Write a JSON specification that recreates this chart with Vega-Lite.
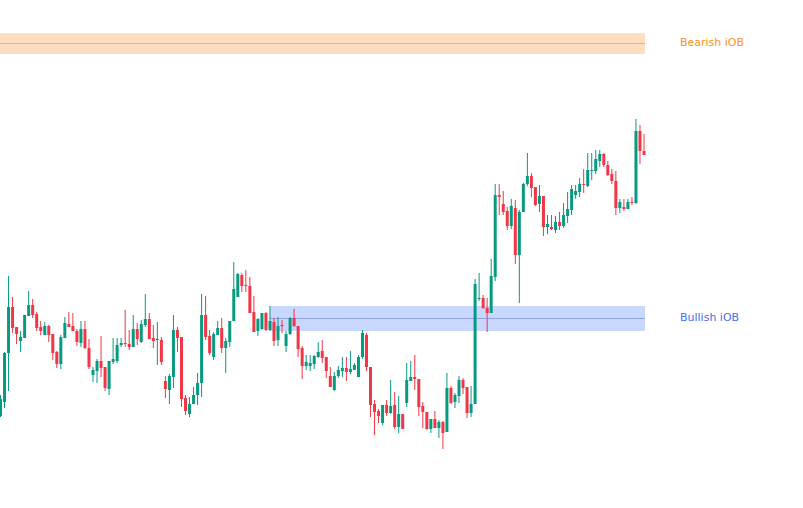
{
  "$schema": "https://vega.github.io/schema/vega-lite/v6.json",
  "width": 803,
  "height": 508,
  "autosize": {"type": "none"},
  "padding": 0,
  "background": "white",
  "config": {"view": {"stroke": null}},
  "datasets": {
    "candles": [
      {"i":0,"o":92,"h":113,"l":91,"c":109},
      {"i":1,"o":106,"h":156,"l":100,"c":155},
      {"i":2,"o":155,"h":232,"l":117,"c":201},
      {"i":3,"o":201,"h":211,"l":175,"c":180},
      {"i":4,"o":181,"h":181,"l":164,"c":174},
      {"i":5,"o":167,"h":177,"l":156,"c":171},
      {"i":6,"o":170,"h":193,"l":170,"c":193},
      {"i":7,"o":192,"h":217,"l":192,"c":203},
      {"i":8,"o":203,"h":209,"l":190,"c":193},
      {"i":9,"o":194,"h":196,"l":177,"c":180},
      {"i":10,"o":181,"h":187,"l":173,"c":177},
      {"i":11,"o":173,"h":186,"l":173,"c":182},
      {"i":12,"o":182,"h":183,"l":166,"c":173},
      {"i":13,"o":174,"h":174,"l":148,"c":155},
      {"i":14,"o":156,"h":157,"l":140,"c":144},
      {"i":15,"o":144,"h":173,"l":139,"c":171},
      {"i":16,"o":170,"h":191,"l":170,"c":185},
      {"i":17,"o":184,"h":196,"l":181,"c":181},
      {"i":18,"o":182,"h":195,"l":177,"c":177},
      {"i":19,"o":177,"h":179,"l":162,"c":166},
      {"i":20,"o":165,"h":187,"l":161,"c":179},
      {"i":21,"o":179,"h":187,"l":159,"c":160},
      {"i":22,"o":160,"h":169,"l":139,"c":141},
      {"i":23,"o":133,"h":141,"l":126,"c":138},
      {"i":24,"o":137,"h":149,"l":125,"c":147},
      {"i":25,"o":147,"h":172,"l":131,"c":140},
      {"i":26,"o":141,"h":141,"l":117,"c":120},
      {"i":27,"o":119,"h":147,"l":113,"c":147},
      {"i":28,"o":146,"h":170,"l":144,"c":149},
      {"i":29,"o":147,"h":170,"l":145,"c":163},
      {"i":30,"o":163,"h":170,"l":161,"c":165},
      {"i":31,"o":165,"h":198,"l":161,"c":164},
      {"i":32,"o":164,"h":178,"l":158,"c":161},
      {"i":33,"o":161,"h":193,"l":161,"c":179},
      {"i":34,"o":179,"h":185,"l":163,"c":169},
      {"i":35,"o":166,"h":188,"l":165,"c":184},
      {"i":36,"o":183,"h":214,"l":181,"c":189},
      {"i":37,"o":189,"h":195,"l":169,"c":169},
      {"i":38,"o":170,"h":183,"l":160,"c":167},
      {"i":39,"o":168,"h":186,"l":143,"c":169},
      {"i":40,"o":168,"h":171,"l":143,"c":146},
      {"i":41,"o":127,"h":132,"l":110,"c":119},
      {"i":42,"o":118,"h":134,"l":104,"c":132},
      {"i":43,"o":131,"h":193,"l":120,"c":178},
      {"i":44,"o":178,"h":181,"l":156,"c":170},
      {"i":45,"o":171,"h":171,"l":101,"c":109},
      {"i":46,"o":110,"h":113,"l":93,"c":97},
      {"i":47,"o":94,"h":111,"l":91,"c":104},
      {"i":48,"o":104,"h":121,"l":104,"c":113},
      {"i":49,"o":113,"h":135,"l":103,"c":125},
      {"i":50,"o":125,"h":214,"l":111,"c":193},
      {"i":51,"o":193,"h":212,"l":168,"c":171},
      {"i":52,"o":172,"h":178,"l":153,"c":155},
      {"i":53,"o":151,"h":176,"l":148,"c":174},
      {"i":54,"o":173,"h":187,"l":173,"c":180},
      {"i":55,"o":180,"h":190,"l":155,"c":160},
      {"i":56,"o":160,"h":170,"l":135,"c":167},
      {"i":57,"o":166,"h":187,"l":161,"c":187},
      {"i":58,"o":187,"h":246,"l":187,"c":219},
      {"i":59,"o":211,"h":235,"l":211,"c":234},
      {"i":60,"o":233,"h":235,"l":216,"c":222},
      {"i":61,"o":223,"h":238,"l":216,"c":222},
      {"i":62,"o":222,"h":231,"l":195,"c":195},
      {"i":63,"o":196,"h":212,"l":176,"c":176},
      {"i":64,"o":177,"h":190,"l":172,"c":189},
      {"i":65,"o":179,"h":195,"l":178,"c":195},
      {"i":66,"o":195,"h":196,"l":177,"c":178},
      {"i":67,"o":178,"h":202,"l":177,"c":187},
      {"i":68,"o":186,"h":190,"l":162,"c":167},
      {"i":69,"o":168,"h":191,"l":162,"c":182},
      {"i":70,"o":183,"h":188,"l":175,"c":182},
      {"i":71,"o":162,"h":177,"l":156,"c":174},
      {"i":72,"o":174,"h":191,"l":173,"c":190},
      {"i":73,"o":190,"h":199,"l":181,"c":182},
      {"i":74,"o":182,"h":182,"l":151,"c":159},
      {"i":75,"o":160,"h":162,"l":129,"c":142},
      {"i":76,"o":142,"h":153,"l":138,"c":146},
      {"i":77,"o":142,"h":153,"l":137,"c":145},
      {"i":78,"o":144,"h":153,"l":139,"c":152},
      {"i":79,"o":151,"h":166,"l":150,"c":156},
      {"i":80,"o":157,"h":168,"l":145,"c":150},
      {"i":81,"o":151,"h":151,"l":130,"c":137},
      {"i":82,"o":132,"h":141,"l":121,"c":121},
      {"i":83,"o":118,"h":136,"l":117,"c":132},
      {"i":84,"o":132,"h":142,"l":130,"c":138},
      {"i":85,"o":137,"h":151,"l":131,"c":140},
      {"i":86,"o":140,"h":151,"l":127,"c":136},
      {"i":87,"o":136,"h":157,"l":134,"c":139},
      {"i":88,"o":138,"h":145,"l":138,"c":143},
      {"i":89,"o":131,"h":153,"l":131,"c":151},
      {"i":90,"o":151,"h":178,"l":149,"c":175},
      {"i":91,"o":173,"h":175,"l":137,"c":141},
      {"i":92,"o":141,"h":141,"l":91,"c":103},
      {"i":93,"o":104,"h":108,"l":73,"c":96},
      {"i":94,"o":97,"h":99,"l":85,"c":92},
      {"i":95,"o":85,"h":103,"l":83,"c":103},
      {"i":96,"o":103,"h":108,"l":92,"c":95},
      {"i":97,"o":95,"h":128,"l":94,"c":102},
      {"i":98,"o":103,"h":116,"l":79,"c":81},
      {"i":99,"o":81,"h":112,"l":75,"c":94},
      {"i":100,"o":94,"h":94,"l":79,"c":79},
      {"i":101,"o":105,"h":145,"l":101,"c":128},
      {"i":102,"o":127,"h":147,"l":127,"c":131},
      {"i":103,"o":131,"h":153,"l":118,"c":129},
      {"i":104,"o":129,"h":129,"l":92,"c":101},
      {"i":105,"o":102,"h":106,"l":80,"c":96},
      {"i":106,"o":96,"h":96,"l":78,"c":79},
      {"i":107,"o":79,"h":89,"l":75,"c":89},
      {"i":108,"o":89,"h":97,"l":80,"c":80},
      {"i":109,"o":80,"h":88,"l":70,"c":86},
      {"i":110,"o":86,"h":87,"l":59,"c":75},
      {"i":111,"o":76,"h":135,"l":76,"c":120},
      {"i":112,"o":120,"h":122,"l":104,"c":105},
      {"i":113,"o":106,"h":115,"l":100,"c":113},
      {"i":114,"o":112,"h":132,"l":105,"c":128},
      {"i":115,"o":128,"h":130,"l":114,"c":120},
      {"i":116,"o":121,"h":121,"l":90,"c":95},
      {"i":117,"o":95,"h":122,"l":91,"c":104},
      {"i":118,"o":104,"h":229,"l":104,"c":224},
      {"i":119,"o":209,"h":235,"l":207,"c":210},
      {"i":120,"o":210,"h":213,"l":199,"c":200},
      {"i":121,"o":200,"h":210,"l":176,"c":195},
      {"i":122,"o":195,"h":249,"l":195,"c":232},
      {"i":123,"o":231,"h":324,"l":227,"c":313},
      {"i":124,"o":313,"h":324,"l":293,"c":311},
      {"i":125,"o":304,"h":317,"l":293,"c":296},
      {"i":126,"o":297,"h":301,"l":278,"c":282},
      {"i":127,"o":282,"h":309,"l":279,"c":302},
      {"i":128,"o":300,"h":308,"l":244,"c":253},
      {"i":129,"o":253,"h":298,"l":205,"c":296},
      {"i":130,"o":296,"h":325,"l":296,"c":324},
      {"i":131,"o":324,"h":355,"l":322,"c":332},
      {"i":132,"o":332,"h":335,"l":311,"c":320},
      {"i":133,"o":321,"h":321,"l":302,"c":303},
      {"i":134,"o":304,"h":323,"l":296,"c":312},
      {"i":135,"o":312,"h":312,"l":272,"c":281},
      {"i":136,"o":281,"h":293,"l":274,"c":284},
      {"i":137,"o":281,"h":293,"l":278,"c":279},
      {"i":138,"o":278,"h":292,"l":275,"c":286},
      {"i":139,"o":286,"h":296,"l":278,"c":282},
      {"i":140,"o":282,"h":305,"l":280,"c":293},
      {"i":141,"o":292,"h":316,"l":285,"c":299},
      {"i":142,"o":298,"h":323,"l":293,"c":319},
      {"i":143,"o":313,"h":323,"l":309,"c":317},
      {"i":144,"o":316,"h":330,"l":311,"c":324},
      {"i":145,"o":324,"h":339,"l":315,"c":323},
      {"i":146,"o":322,"h":355,"l":321,"c":338},
      {"i":147,"o":337,"h":355,"l":328,"c":338},
      {"i":148,"o":337,"h":358,"l":334,"c":349},
      {"i":149,"o":347,"h":358,"l":341,"c":354},
      {"i":150,"o":354,"h":355,"l":341,"c":343},
      {"i":151,"o":343,"h":347,"l":332,"c":333},
      {"i":152,"o":334,"h":339,"l":324,"c":327},
      {"i":153,"o":327,"h":337,"l":293,"c":300},
      {"i":154,"o":300,"h":309,"l":295,"c":306},
      {"i":155,"o":301,"h":309,"l":297,"c":299},
      {"i":156,"o":299,"h":309,"l":299,"c":306},
      {"i":157,"o":306,"h":311,"l":303,"c":305},
      {"i":158,"o":305,"h":389,"l":304,"c":377},
      {"i":159,"o":377,"h":383,"l":344,"c":357},
      {"i":160,"o":357,"h":374,"l":353,"c":353}
    ],
    "zones": [
      {"label":"Bearish iOB","start":-0.124,"end":160.24,"top":475,"bottom":454,"mid":464.5},
      {"label":"Bullish iOB","start":67,"end":160.24,"top":202,"bottom":177,"mid":189.5}
    ]
  },
  "layer": [
    {
      "data": {"name": "zones"},
      "mark": {"type": "rect"},
      "encoding": {
        "x": {"field": "start", "type": "quantitative", "scale": {"domain": [-0.124, 199.53], "nice": false, "zero": false, "padding": 0}, "axis": null},
        "x2": {"field": "end"},
        "y": {"field": "bottom", "type": "quantitative", "scale": {"domain": [0, 508], "nice": false, "zero": false, "padding": 0}, "axis": null},
        "y2": {"field": "top"},
        "color": {"field": "label", "type": "nominal", "scale": {"domain": ["Bearish iOB", "Bullish iOB"], "range": ["#FFDDC1", "#C7D7FD"]}, "legend": null}
      }
    },
    {
      "data": {"name": "zones"},
      "mark": {"type": "rule", "strokeWidth": 1},
      "encoding": {
        "x": {"field": "start", "type": "quantitative"},
        "x2": {"field": "end"},
        "y": {"field": "mid", "type": "quantitative"},
        "stroke": {"field": "label", "type": "nominal", "scale": {"domain": ["Bearish iOB", "Bullish iOB"], "range": ["#D6B79E", "#8FA4E0"]}, "legend": null}
      }
    },
    {
      "data": {"name": "zones"},
      "mark": {"type": "text", "align": "left", "baseline": "middle", "dx": 35, "dy": -1, "font": "DejaVu Sans", "fontSize": 11},
      "encoding": {
        "x": {"field": "end", "type": "quantitative"},
        "y": {"field": "mid", "type": "quantitative"},
        "text": {"field": "label"},
        "fill": {"field": "label", "type": "nominal", "scale": {"domain": ["Bearish iOB", "Bullish iOB"], "range": ["#F7931E", "#4470F2"]}, "legend": null}
      }
    },
    {
      "data": {"name": "candles"},
      "mark": {"type": "rule", "strokeWidth": 1},
      "encoding": {
        "x": {"field": "i", "type": "quantitative"},
        "y": {"field": "l", "type": "quantitative"},
        "y2": {"field": "h"},
        "stroke": {"condition": {"test": "datum.c >= datum.o", "value": "#089981"}, "value": "#F23645"}
      }
    },
    {
      "data": {"name": "candles"},
      "mark": {"type": "bar", "width": 3},
      "encoding": {
        "x": {"field": "i", "type": "quantitative"},
        "y": {"field": "o", "type": "quantitative"},
        "y2": {"field": "c"},
        "fill": {"condition": {"test": "datum.c >= datum.o", "value": "#089981"}, "value": "#F23645"}
      }
    }
  ]
}
